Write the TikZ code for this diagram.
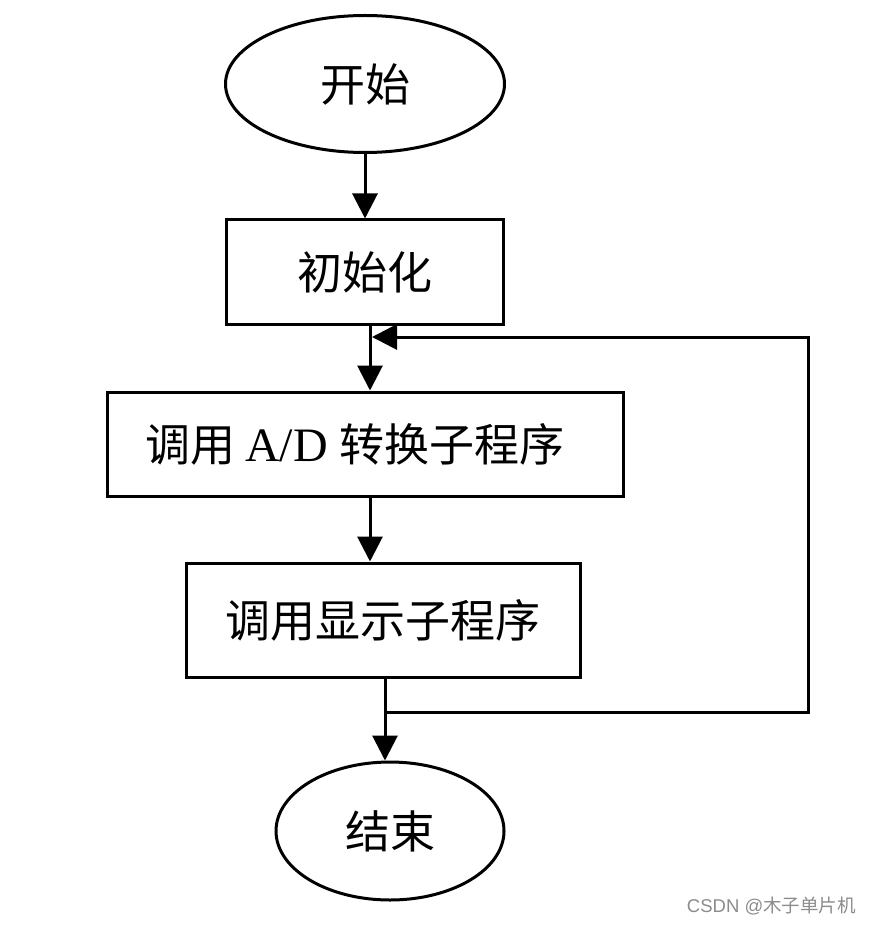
\documentclass[tikz,border=0pt]{standalone}
\usepackage{fontspec}
\setmainfont{Liberation Serif}
\newfontfamily\cjk{Noto Sans CJK SC}
\newfontfamily\wmsans{Liberation Sans}
\usetikzlibrary{shapes.geometric,arrows.meta}
\tikzset{
  base/.style={draw, line width=3pt, inner sep=0pt, font=\fontsize{45pt}{48pt}\selectfont\cjk},
  oval/.style={base, ellipse},
  stepbox/.style={base, rectangle},
  arr/.style={line width=3pt, -{Triangle[length=25pt,width=25pt]}},
  ln/.style={line width=3pt}
}
\begin{document}
\begin{tikzpicture}[x=1pt,y=-1pt]
\useasboundingbox (0,0) rectangle (870,925);
\fill[white] (0,0) rectangle (870,925);

\node[oval, minimum width=279pt, minimum height=137pt] (start) at (365,84) {开始};
\node[stepbox, minimum width=277pt, minimum height=104pt] (b1) at (365,272) {初始化};
\node[stepbox, minimum width=516pt, minimum height=104pt] (b2) at (365,444) {调用\hspace{10pt}{\rmfamily\fontsize{48pt}{48pt}\selectfont A/D}\hspace{12pt}转换子程序\hspace*{20pt}};
\node[stepbox, minimum width=394pt, minimum height=114pt] (b3) at (383,620) {调用显示子程序};
\node[oval, minimum width=228pt, minimum height=138pt] (stop) at (390,831) {结束};

\coordinate (lj) at (385,712);
\coordinate (lr) at (808,712);
\coordinate (lt) at (372,337);

\draw[arr] (start.south) -- (start.south |- b1.north);
\draw[arr] ([xshift=5pt]b1.south) -- ([xshift=5pt]b1.south |- b2.north);
\draw[arr] ([xshift=5pt]b2.south) -- ([xshift=5pt]b2.south |- b3.north);
\draw[ln] (lj |- b3.south) -- (lj);
\draw[arr] (lj) -- (lj |- stop.north);
\draw[arr] (lj) -- (lr) |- (lt);

\node[text=black!45, font=\fontsize{18.5pt}{20pt}\selectfont, anchor=east, inner sep=0pt] (wm) at (856,906) {\wmsans CSDN @{\cjk 木子单片机}};
\end{tikzpicture}
\end{document}
